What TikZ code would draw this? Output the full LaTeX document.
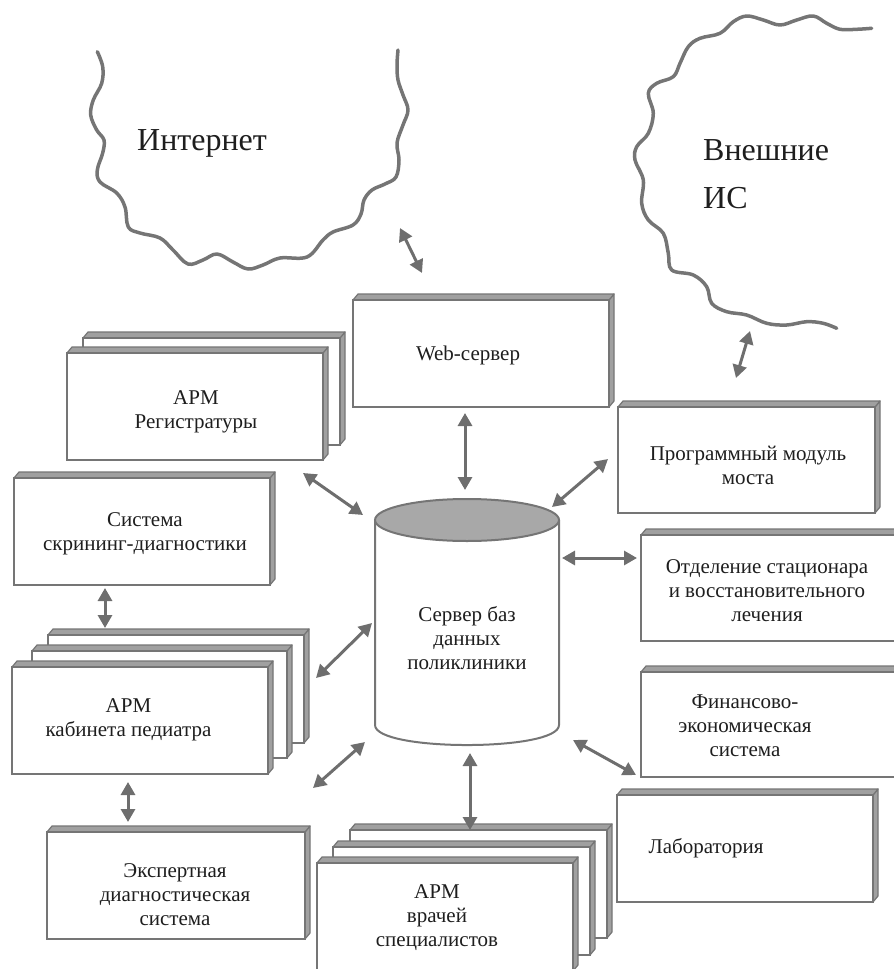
\documentclass[tikz,border=0pt]{standalone}
\usepackage{fontspec}
\setmainfont{Liberation Serif}
\usetikzlibrary{arrows.meta}
\definecolor{edgegray}{HTML}{757575}
\definecolor{facegray}{HTML}{A0A0A0}
\definecolor{arrowgray}{HTML}{6E6E6E}
\definecolor{txtcol}{HTML}{1E1E1E}
\definecolor{capgray}{HTML}{A8A8A8}
\tikzset{
  sideface/.style={fill=facegray, draw=edgegray, line width=1.2pt, line join=round},
  frontface/.style={draw=edgegray, fill=white, line width=2pt, inner sep=0pt, outer sep=0pt},
  conn/.style={draw=arrowgray, line width=3pt, {Triangle[length=13pt,width=14pt]}-{Triangle[length=13pt,width=14pt]}},
  lbl/.style={text=txtcol, font=\fontsize{21}{24}\selectfont, align=center, inner sep=0pt},
  biglbl/.style={text=txtcol, font=\fontsize{32}{36}\selectfont, inner sep=0pt, anchor=base west},
  wavyline/.style={draw=edgegray, line width=3.5pt, line cap=round, line join=round},
}
\newcommand\tdbox[5]{%
  \path[sideface] (#4,#3) -- ({#4+5},{#3-6}) -- ({#4+5},{#5-6}) -- (#4,#5) -- cycle;
  \path[sideface] (#2,#3) -- ({#2+5},{#3-6}) -- ({#4+5},{#3-6}) -- (#4,#3) -- cycle;
  \node[frontface, minimum width={#4-#2}, minimum height={#5-#3}, anchor=north west] (#1) at (#2,#3) {};
}
\begin{document}
\begin{tikzpicture}[x=1pt, y=-1pt]
\useasboundingbox (0,0) rectangle (894,969);
\clip (0,0) rectangle (894,969);

% clouds
\draw[wavyline] plot[smooth, tension=0.6] coordinates {
(97.3,51.7) (102.7,66.7) (101.7,83.3) (93.3,100) (90.7,115) (96.7,130) (104,140)
(102.7,153) (97.3,170) (100,182) (116.7,193) (125,207) (128.3,227) (140,233)
(160,238) (173,250) (188,264) (203,260) (217,254) (233,262) (248,269) (263,265)
(280,258) (307,257) (323,240) (333,232) (353,225) (361,214) (364,200) (372,190)
(385,184) (396,177) (399,160) (397,143) (403,125) (408,110) (403,95) (398,80)
(397,65) (398,50)};
\node[biglbl] (internet) at (137,150) {Интернет};

\draw[wavyline] plot[smooth, tension=0.6] coordinates {
(871.7,28.3) (856.7,29.3) (840,29.3) (826.7,23.3) (813.3,16) (796.7,20) (780,25)
(763.3,20) (746.7,16) (733.3,21.7) (720,33.3) (700,38.3) (688.3,46.7) (680,63.3)
(673.3,76.7) (656.7,83.3) (648.3,93.3) (653.3,113.3) (648.3,133.3) (636.7,146.7)
(635,160) (643.3,180) (641.7,203.3) (648.3,220) (663.3,233.3) (668.3,253.3)
(671.7,270) (693.3,275) (706.7,286.7) (711.7,303.3) (726.7,311.7) (746.7,315)
(766.7,323.3) (786.7,325) (806.7,321.7) (823.3,323.3) (836.7,328.3)};
\node[biglbl] (extis1) at (703,160) {Внешние};
\node[biglbl] (extis2) at (703,208) {ИС};

% boxes
\tdbox{web}{353}{300}{609}{407}
\node[lbl] (webt) at (468,355) {Web-сервер};

\tdbox{regB}{83}{338}{340}{445}
\tdbox{reg}{67}{353}{323}{460}
\node[lbl] (regt) at (196,412) {АРМ\\Регистратуры};

\tdbox{scr}{14}{478}{270}{585}
\node[lbl] (scrt) at (145,534) {Система\\скрининг-диагностики};

\tdbox{pedC}{48}{635}{304}{743}
\tdbox{pedB}{32}{651}{287}{758}
\tdbox{ped}{12}{667}{268}{774}
\node[lbl] (pedt) at (128.5,720) {АРМ\\кабинета педиатра};

\tdbox{exp}{47}{832}{305}{939}
\node[lbl] (expt) at (175,895) {Экспертная\\диагностическая\\система};

\tdbox{docC}{350}{830}{607}{938}
\tdbox{docB}{333}{847}{590}{955}
\tdbox{doc}{317}{863}{573}{971}
\node[lbl] (doct) at (437,918) {АРМ\\врачей\\специалистов};

\tdbox{lab}{617}{795}{873}{902}
\node[lbl] (labt) at (706,848) {Лаборатория};

\tdbox{bridge}{618}{407}{875}{513}
\node[lbl] (bridget) at (748,465) {Программный модуль\\моста};

\tdbox{hosp}{641}{535}{897}{641}
\node[lbl] (hospt) at (767,591) {Отделение стационара\\и восстановительного\\лечения};

\tdbox{fin}{641}{672}{897}{777}
\node[lbl] (fint) at (745,726) {Финансово-\\экономическая\\система};

% database cylinder
\path[draw=edgegray, fill=white, line width=2pt] (375,520) -- (375,725)
  .. controls (375,751.7) and (559,751.7) .. (559,725) -- (559,520);
\draw[draw=edgegray, fill=capgray, line width=2pt] (467,520) ellipse[x radius=92, y radius=21];
\node[lbl] (db) at (467,638) {Сервер баз\\данных\\поликлиники};

% connector end points
\coordinate (a1s) at (400,228); \coordinate (a1e) at (422,273);
\coordinate (a2s) at (750,331); \coordinate (a2e) at (736,378);
\coordinate (a3s) at (465,413); \coordinate (a3e) at (465,490);
\coordinate (a4s) at (303,473); \coordinate (a4e) at (363,515);
\coordinate (a5s) at (608,459); \coordinate (a5e) at (552,507);
\coordinate (a6s) at (562,558); \coordinate (a6e) at (637,558);
\coordinate (a7s) at (372,623); \coordinate (a7e) at (316,678);
\coordinate (a8s) at (365,742); \coordinate (a8e) at (313,788);
\coordinate (a9s) at (470,753); \coordinate (a9e) at (470,830);
\coordinate (a10s) at (573,740); \coordinate (a10e) at (636,775);
\coordinate (a11s) at (105,588); \coordinate (a11e) at (105,628);
\coordinate (a12s) at (128,782); \coordinate (a12e) at (128,822);

\foreach \i in {1,...,12} {\draw[conn] (a\i s) -- (a\i e);}
\end{tikzpicture}
\end{document}
